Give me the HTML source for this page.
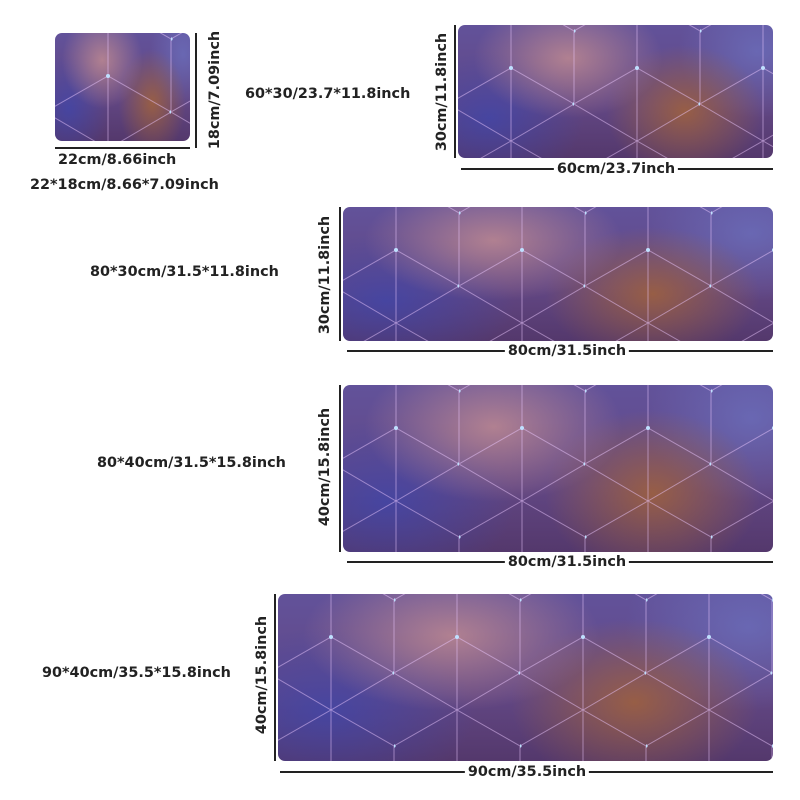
<!DOCTYPE html>
<html><head><meta charset="utf-8">
<style>
*{margin:0;padding:0;box-sizing:border-box}
body{width:800px;height:800px;background:#fff;position:relative;overflow:hidden;font-family:"DejaVu Sans","Liberation Sans",sans-serif;font-weight:bold;color:#222}
.pad{position:absolute;border-radius:7px;overflow:hidden;
background:
radial-gradient(ellipse 30% 45% at 35% 25%,rgba(210,150,145,.7),rgba(210,150,145,0) 100%),
radial-gradient(ellipse 25% 50% at 72% 65%,rgba(165,100,55,.8),rgba(165,100,55,0) 100%),
radial-gradient(ellipse 30% 50% at 10% 70%,rgba(60,70,175,.7),rgba(60,70,175,0) 100%),
radial-gradient(ellipse 25% 50% at 95% 20%,rgba(110,120,200,.6),rgba(110,120,200,0) 100%),
linear-gradient(180deg,#62529a 0%,#624784 60%,#54386c 100%);}
.pad svg{position:absolute;left:0;top:0;width:100%;height:100%}
.t{position:absolute;font-size:14.4px;white-space:nowrap;line-height:1}
.v{position:absolute;font-size:14.4px;white-space:nowrap;line-height:1;transform:translate(-50%,-50%) rotate(-90deg)}
.hl{position:absolute;height:2px;background:#222}
.vl{position:absolute;width:2px;background:#222}
.lab{position:absolute;font-size:14.4px;white-space:nowrap;line-height:1;background:#fff;padding:0 3px;transform:translate(-50%,-50%)}
</style></head><body>
<svg width="0" height="0" style="position:absolute">
<defs>
<pattern id="hx" width="126" height="146" patternUnits="userSpaceOnUse" x="-10" y="-30">
<g stroke="rgba(235,200,255,0.5)" stroke-width="1" fill="none">
<path d="M0,36 L63,0 L126,36 M63,0 L63,-10 M0,36 L0,109 M126,36 L126,109 M0,109 L63,73 L126,109 M63,73 L63,0 M0,109 L63,146 L126,109 M63,146 L63,156"/>
<path d="M63,73 L63,146"/>
</g>
<g fill="#bfe0ff"><circle cx="63" cy="73" r="2"/><circle cx="0" cy="36" r="1.6"/><circle cx="126" cy="109" r="1.6"/></g>
</pattern>
</defs></svg>

<div class="pad" style="left:55px;top:33px;width:135px;height:108px"><svg><rect width="100%" height="100%" fill="url(#hx)"/></svg></div>
<div class="vl" style="left:195px;top:33px;height:115px"></div>
<div class="v" style="left:215px;top:90px">18cm/7.09inch</div>
<div class="hl" style="left:55px;top:147px;width:135px"></div>
<div class="t" style="left:58px;top:153px">22cm/8.66inch</div>
<div class="t" style="left:30px;top:178px">22*18cm/8.66*7.09inch</div>

<div class="t" style="left:245px;top:87px">60*30/23.7*11.8inch</div>

<div class="pad" style="left:458px;top:25px;width:315px;height:133px"><svg><rect width="100%" height="100%" fill="url(#hx)"/></svg></div>
<div class="vl" style="left:454px;top:25px;height:133px"></div>
<div class="v" style="left:442px;top:92px">30cm/11.8inch</div>
<div class="hl" style="left:461px;top:168px;width:312px"></div>
<div class="lab" style="left:616px;top:169px">60cm/23.7inch</div>

<div class="t" style="left:90px;top:265px">80*30cm/31.5*11.8inch</div>
<div class="pad" style="left:343px;top:207px;width:430px;height:134px"><svg><rect width="100%" height="100%" fill="url(#hx)"/></svg></div>
<div class="vl" style="left:339px;top:207px;height:134px"></div>
<div class="v" style="left:325px;top:275px">30cm/11.8inch</div>
<div class="hl" style="left:347px;top:350px;width:426px"></div>
<div class="lab" style="left:567px;top:351px">80cm/31.5inch</div>

<div class="t" style="left:97px;top:456px">80*40cm/31.5*15.8inch</div>
<div class="pad" style="left:343px;top:385px;width:430px;height:167px"><svg><rect width="100%" height="100%" fill="url(#hx)"/></svg></div>
<div class="vl" style="left:339px;top:385px;height:167px"></div>
<div class="v" style="left:325px;top:467px">40cm/15.8inch</div>
<div class="hl" style="left:347px;top:561px;width:426px"></div>
<div class="lab" style="left:567px;top:562px">80cm/31.5inch</div>

<div class="t" style="left:42px;top:666px">90*40cm/35.5*15.8inch</div>
<div class="pad" style="left:278px;top:594px;width:495px;height:167px"><svg><rect width="100%" height="100%" fill="url(#hx)"/></svg></div>
<div class="vl" style="left:274px;top:594px;height:167px"></div>
<div class="v" style="left:262px;top:675px">40cm/15.8inch</div>
<div class="hl" style="left:280px;top:771px;width:493px"></div>
<div class="lab" style="left:527px;top:772px">90cm/35.5inch</div>
</body></html>
